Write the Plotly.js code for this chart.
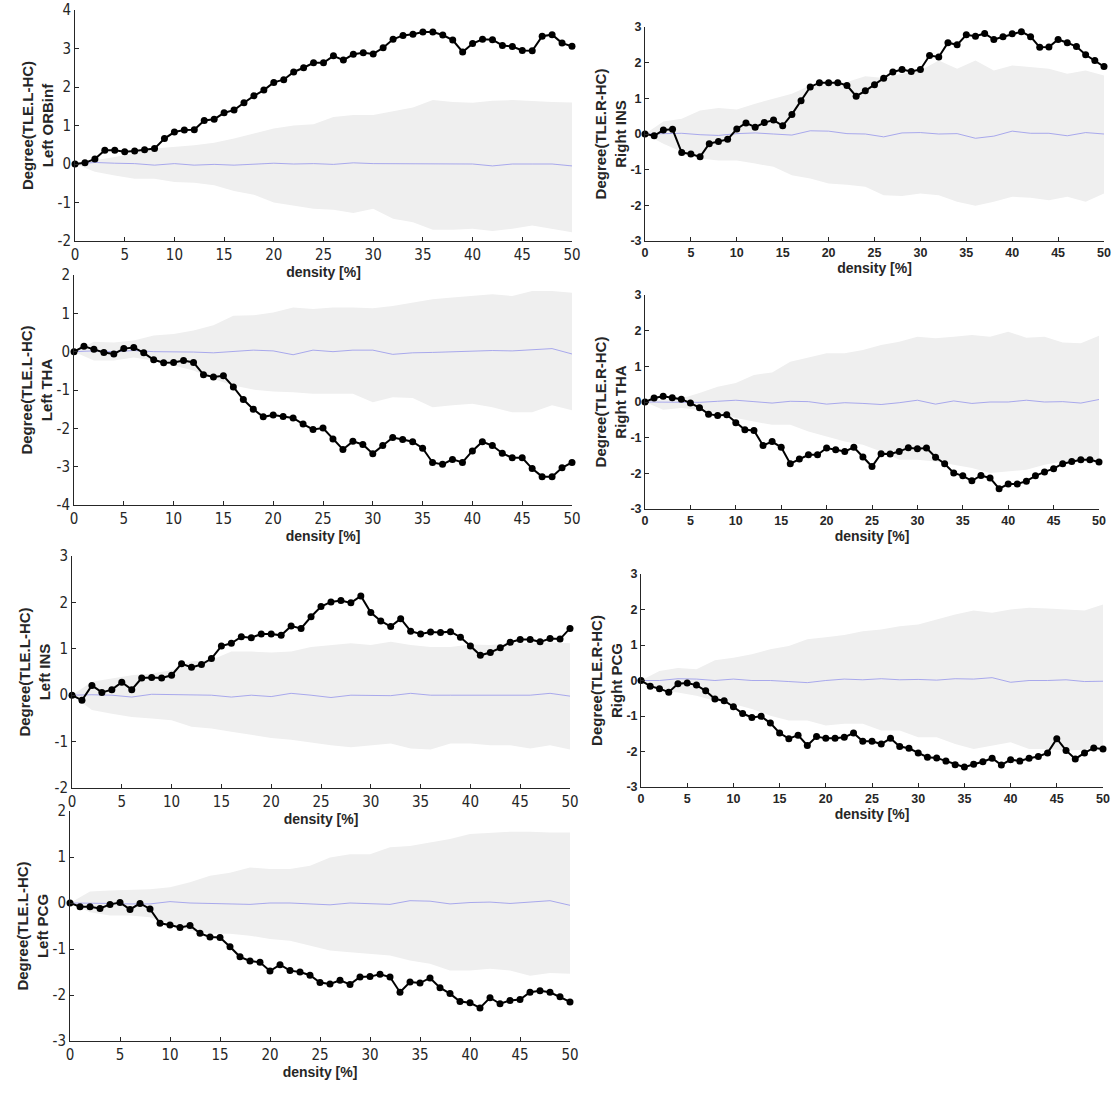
<!DOCTYPE html>
<html>
<head>
<meta charset="utf-8">
<script src="https://cdn.plot.ly/plotly-3.0.1.min.js"></script>
<style>
html,body{margin:0;padding:0;background:#fff;}
#chart{width:1112px;height:1094px;}
</style>
</head>
<body>
<div id="chart"></div>
<script>
// ---------------- data ----------------
const density = [0,1,2,3,4,5,6,7,8,9,10,11,12,13,14,15,16,17,18,19,20,21,22,23,24,25,26,27,28,29,30,31,32,33,34,35,36,37,38,39,40,41,42,43,44,45,46,47,48,49,50];
const bandDensity = [0,2,4,6,8,10,12,14,16,18,20,22,24,26,28,30,32,34,36,38,40,42,44,46,48,50];
const xTicks = [0,5,10,15,20,25,30,35,40,45,50];

// Left ORBinf
const leftORBinf = [0,0.03,0.13,0.36,0.36,0.32,0.34,0.37,0.40,0.66,0.83,0.88,0.89,1.13,1.16,1.33,1.40,1.59,1.77,1.92,2.12,2.19,2.39,2.50,2.63,2.63,2.81,2.70,2.85,2.89,2.86,3.02,3.24,3.34,3.37,3.43,3.43,3.35,3.22,2.91,3.13,3.24,3.23,3.08,3.05,2.95,2.94,3.32,3.36,3.14,3.06];
const leftORBinfUpper = [0,0.10,0.18,0.28,0.40,0.44,0.49,0.55,0.66,0.79,0.92,1.00,1.03,1.22,1.27,1.27,1.38,1.47,1.66,1.61,1.59,1.64,1.66,1.63,1.61,1.60];
const leftORBinfLower = [0,-0.20,-0.30,-0.38,-0.38,-0.47,-0.49,-0.55,-0.70,-0.80,-1.00,-1.08,-1.16,-1.19,-1.27,-1.16,-1.42,-1.51,-1.71,-1.71,-1.68,-1.74,-1.68,-1.60,-1.68,-1.77];
const leftORBinfMean = [0,0.04,0.02,0.01,-0.03,0.01,-0.03,-0.01,-0.03,0.00,0.02,0.00,0.01,-0.01,0.03,0.01,0.01,0.00,0.00,0.00,0.00,-0.05,0.00,0.00,0.00,-0.05];

// Right INS
const rightINS = [0,-0.05,0.11,0.13,-0.52,-0.56,-0.64,-0.27,-0.21,-0.15,0.14,0.31,0.19,0.32,0.39,0.23,0.55,0.93,1.32,1.44,1.44,1.44,1.36,1.06,1.21,1.38,1.56,1.74,1.81,1.75,1.81,2.20,2.16,2.56,2.50,2.78,2.74,2.82,2.65,2.73,2.81,2.87,2.73,2.43,2.44,2.65,2.56,2.45,2.22,2.06,1.89];
const rightINSUpper = [0,0.35,0.43,0.66,0.73,0.69,0.85,0.99,1.13,1.36,1.41,1.46,1.62,1.57,1.69,1.78,2.06,1.83,2.06,1.78,1.92,1.88,1.83,1.69,1.78,1.64];
const rightINSLower = [0,-0.27,-0.50,-0.69,-0.74,-0.74,-0.83,-0.92,-1.16,-1.25,-1.39,-1.42,-1.48,-1.72,-1.74,-1.67,-1.72,-1.90,-2.01,-1.90,-1.76,-1.79,-1.86,-1.76,-1.90,-1.67];
const rightINSMean = [0,0,0.02,-0.02,-0.04,0.01,0.03,0,-0.03,0.09,0.08,0.01,0,-0.08,0.03,0.04,0,0.01,-0.12,-0.06,0.08,0.02,0.02,-0.05,0.04,0];

// Left THA
const leftTHA = [0,0.14,0.06,-0.02,-0.06,0.08,0.11,-0.03,-0.21,-0.29,-0.28,-0.23,-0.28,-0.60,-0.66,-0.63,-0.92,-1.25,-1.50,-1.70,-1.65,-1.69,-1.73,-1.89,-2.03,-1.99,-2.28,-2.55,-2.34,-2.42,-2.66,-2.45,-2.24,-2.29,-2.35,-2.52,-2.89,-2.94,-2.81,-2.89,-2.59,-2.35,-2.45,-2.65,-2.77,-2.77,-3.05,-3.26,-3.26,-3.03,-2.89];
const leftTHAUpper = [0,0.26,0.24,0.29,0.42,0.46,0.55,0.69,0.94,0.95,1.02,1.15,1.11,1.15,1.15,1.13,1.19,1.28,1.37,1.41,1.45,1.50,1.45,1.58,1.58,1.54];
const leftTHALower = [0,-0.23,-0.23,-0.15,-0.23,-0.36,-0.49,-0.71,-0.88,-0.99,-1.04,-1.06,-1.10,-1.10,-1.10,-1.32,-1.19,-1.21,-1.45,-1.40,-1.36,-1.45,-1.58,-1.58,-1.40,-1.53];
const leftTHAMean = [0,0.02,0,0.03,0,0,-0.01,-0.03,0,0.04,0.02,-0.08,0.04,0,0.04,0.04,-0.07,-0.03,-0.02,0,0.02,0.03,0.02,0.05,0.08,-0.06];

// Right THA
const rightTHA = [0,0.11,0.16,0.12,0.08,-0.03,-0.16,-0.34,-0.38,-0.36,-0.58,-0.78,-0.80,-1.22,-1.11,-1.27,-1.73,-1.60,-1.48,-1.48,-1.29,-1.34,-1.39,-1.27,-1.54,-1.81,-1.45,-1.46,-1.39,-1.28,-1.31,-1.29,-1.55,-1.73,-1.99,-2.07,-2.21,-2.06,-2.13,-2.43,-2.30,-2.30,-2.22,-2.07,-1.96,-1.87,-1.73,-1.67,-1.62,-1.62,-1.68];
const rightTHAUpper = [0,0.08,0.10,0.25,0.43,0.53,0.76,0.83,1.13,1.24,1.37,1.37,1.46,1.60,1.69,1.83,1.79,1.83,1.88,1.83,1.97,1.80,1.83,1.67,1.65,1.86];
const rightTHALower = [0,-0.22,-0.17,-0.22,-0.31,-0.45,-0.55,-0.64,-0.64,-0.83,-0.97,-1.11,-1.20,-1.39,-1.62,-1.62,-1.67,-1.76,-1.85,-1.99,-1.95,-1.90,-1.76,-1.67,-1.67,-1.71];
const rightTHAMean = [0,0,0,-0.01,0.02,0.05,0.01,-0.03,0.02,0.01,-0.06,-0.02,-0.04,-0.07,-0.02,0.05,-0.06,0.03,-0.04,0,0,0.05,0,0.01,-0.03,0.07];

// Left INS
const leftINS = [0,-0.11,0.21,0.06,0.12,0.28,0.12,0.37,0.38,0.37,0.43,0.68,0.60,0.66,0.79,1.06,1.12,1.26,1.24,1.32,1.32,1.29,1.49,1.44,1.69,1.91,2.01,2.04,1.99,2.14,1.78,1.60,1.48,1.65,1.38,1.32,1.36,1.35,1.37,1.25,1.06,0.86,0.92,1.02,1.14,1.20,1.20,1.15,1.22,1.21,1.44];
const leftINSUpper = [0,0.29,0.36,0.43,0.47,0.54,0.73,0.76,0.94,0.94,0.92,0.94,1.04,1.08,1.12,1.08,1.15,1.08,1.04,1.04,1.09,1.08,1.12,1.12,1.14,1.12];
const leftINSLower = [0,-0.32,-0.40,-0.47,-0.50,-0.54,-0.68,-0.72,-0.79,-0.86,-0.92,-0.96,-1.02,-1.08,-1.12,-1.08,-1.04,-1.15,-1.17,-1.04,-1.04,-1.08,-1.08,-1.15,-1.08,-1.17];
const leftINSMean = [0,0.01,0,-0.04,0.02,0.01,0,0,-0.04,0,-0.03,0.04,0,-0.05,0,0,-0.01,0.04,0,0,0,0.01,0.01,0,0.04,-0.02];

// Right PCG
const rightPCG = [0,-0.16,-0.23,-0.33,-0.09,-0.07,-0.13,-0.29,-0.52,-0.57,-0.74,-0.93,-1.04,-1.01,-1.20,-1.48,-1.64,-1.54,-1.83,-1.58,-1.63,-1.63,-1.60,-1.48,-1.71,-1.71,-1.79,-1.63,-1.86,-1.91,-2.04,-2.16,-2.18,-2.27,-2.37,-2.44,-2.36,-2.29,-2.19,-2.38,-2.23,-2.27,-2.19,-2.14,-2.04,-1.64,-1.97,-2.21,-2.04,-1.90,-1.93];
const rightPCGUpper = [0,0.27,0.35,0.32,0.57,0.64,0.74,0.88,0.97,1.16,1.22,1.28,1.39,1.44,1.53,1.58,1.72,1.86,1.97,1.91,2.00,2.05,2.03,2.00,1.97,2.14];
const rightPCGLower = [0,-0.29,-0.34,-0.43,-0.57,-0.66,-0.80,-0.99,-1.13,-1.13,-1.27,-1.22,-1.22,-1.41,-1.41,-1.60,-1.60,-1.79,-1.93,-1.83,-1.74,-1.93,-1.93,-1.97,-1.95,-1.83];
const rightPCGMean = [0,0,0.05,0.04,0,0.04,0,0,-0.03,-0.06,0,0.04,0.02,0.05,0.02,0.03,0.01,0.05,0.04,0.08,-0.05,0,0,0.02,-0.03,-0.02];

// Left PCG
const leftPCG = [0,-0.08,-0.08,-0.12,-0.03,0.01,-0.14,-0.01,-0.13,-0.44,-0.48,-0.53,-0.49,-0.66,-0.74,-0.75,-0.95,-1.17,-1.26,-1.29,-1.48,-1.34,-1.47,-1.50,-1.57,-1.73,-1.76,-1.68,-1.77,-1.61,-1.60,-1.55,-1.61,-1.94,-1.72,-1.74,-1.63,-1.84,-1.97,-2.14,-2.17,-2.28,-2.06,-2.19,-2.12,-2.10,-1.94,-1.91,-1.94,-2.04,-2.15];
const leftPCGUpper = [0,0.25,0.27,0.28,0.30,0.34,0.45,0.59,0.66,0.77,0.74,0.74,0.81,0.99,1.06,1.06,1.21,1.24,1.32,1.39,1.50,1.53,1.55,1.55,1.53,1.53];
const leftPCGLower = [0,-0.20,-0.27,-0.27,-0.31,-0.46,-0.60,-0.67,-0.67,-0.71,-0.78,-0.82,-0.92,-1.03,-1.07,-1.11,-1.14,-1.25,-1.32,-1.47,-1.47,-1.43,-1.47,-1.58,-1.52,-1.54];
const leftPCGMean = [0,0,-0.01,-0.02,-0.02,0.03,0,-0.01,-0.02,-0.03,0,0,-0.02,-0.04,0,-0.01,-0.03,0.05,0.04,-0.02,0.01,0.02,-0.01,0.02,0.05,-0.05];

// ---------------- panels ----------------
const W = 1112, H = 1094;
const panels = [
  {title:'Degree(TLE.L-HC)<br>Left ORBinf', y:leftORBinf, up:leftORBinfUpper, lo:leftORBinfLower, mean:leftORBinfMean, range:[-2,4], ticks:[-2,-1,0,1,2,3,4], box:[75,572,10,241], side:'L'},
  {title:'Degree(TLE.R-HC)<br>Right INS', y:rightINS, up:rightINSUpper, lo:rightINSLower, mean:rightINSMean, range:[-3,3], ticks:[-3,-2,-1,0,1,2,3], box:[645,1104,27,241], side:'R'},
  {title:'Degree(TLE.L-HC)<br>Left THA', y:leftTHA, up:leftTHAUpper, lo:leftTHALower, mean:leftTHAMean, range:[-4,2], ticks:[-4,-3,-2,-1,0,1,2], box:[74,572,275,505], side:'L'},
  {title:'Degree(TLE.R-HC)<br>Right THA', y:rightTHA, up:rightTHAUpper, lo:rightTHALower, mean:rightTHAMean, range:[-3,3], ticks:[-3,-2,-1,0,1,2,3], box:[645,1099,295,509], side:'R'},
  {title:'Degree(TLE.L-HC)<br>Left INS', y:leftINS, up:leftINSUpper, lo:leftINSLower, mean:leftINSMean, range:[-2,3], ticks:[-2,-1,0,1,2,3], box:[72,570,556,788], side:'L'},
  {title:'Degree(TLE.R-HC)<br>Right PCG', y:rightPCG, up:rightPCGUpper, lo:rightPCGLower, mean:rightPCGMean, range:[-3,3], ticks:[-3,-2,-1,0,1,2,3], box:[641,1103,574,787], side:'R'},
  {title:'Degree(TLE.L-HC)<br>Left PCG', y:leftPCG, up:leftPCGUpper, lo:leftPCGLower, mean:leftPCGMean, range:[-3,2], ticks:[-3,-2,-1,0,1,2], box:[70,570,811,1041], side:'L'}
];

const axisColor = '#262626';
const titleFont = {family:'Liberation Sans, Arial, sans-serif', size:15, color:'#262626', weight:'bold'};
const xTitleFont = {family:'Liberation Sans, Arial, sans-serif', size:14, color:'#262626', weight:'bold'};
const tickFontL = {family:'Liberation Sans Narrow, DejaVu Sans Condensed, Arial Narrow, sans-serif', size:15, color:'#262626'};
const tickFontR = {family:'Liberation Sans, Arial, sans-serif', size:12.5, color:'#262626', weight:'bold'};

const traces = [];
const layout = {
  width:W, height:H,
  margin:{l:0,r:0,t:0,b:0},
  paper_bgcolor:'#ffffff', plot_bgcolor:'rgba(0,0,0,0)',
  showlegend:false
};

panels.forEach((p,i)=>{
  const n = i===0 ? '' : String(i+1);
  const xa = 'x'+n, ya = 'y'+n;
  traces.push({x:bandDensity, y:p.lo, xaxis:xa, yaxis:ya, type:'scatter', mode:'lines', line:{width:0, color:'rgba(0,0,0,0)'}, hoverinfo:'skip'});
  traces.push({x:bandDensity, y:p.up, xaxis:xa, yaxis:ya, type:'scatter', mode:'lines', line:{width:0, color:'rgba(0,0,0,0)'}, fill:'tonexty', fillcolor:'#efefef', hoverinfo:'skip'});
  traces.push({x:bandDensity, y:p.mean, xaxis:xa, yaxis:ya, type:'scatter', mode:'lines', line:{width:1, color:'rgba(150,150,235,0.8)'}, hoverinfo:'skip'});
  traces.push({x:density, y:p.y, xaxis:xa, yaxis:ya, type:'scatter', mode:'lines+markers', line:{width:2, color:'#000'}, marker:{size:7, color:'#000'}, cliponaxis:false});
  const [x0,x1,y0,y1] = p.box;
  const tf = p.side==='L' ? tickFontL : tickFontR;
  layout['xaxis'+n] = {
    domain:[x0/W, x1/W], range:[0,50], anchor:ya,
    tickvals:xTicks, ticktext:xTicks.map(String), ticks:'inside', ticklen:4, tickcolor:axisColor, tickwidth:1,
    showline:true, linecolor:axisColor, linewidth:1, mirror:false,
    showgrid:false, zeroline:false, tickfont:tf,
    title:{text:'density [%]', font:xTitleFont, standoff:0}
  };
  layout['yaxis'+n] = {
    domain:[1-y1/H, 1-y0/H], range:p.range, anchor:xa,
    tickvals:p.ticks, ticktext:p.ticks.map(String), ticks:'inside', ticklen:4, tickcolor:axisColor, tickwidth:1,
    showline:true, linecolor:axisColor, linewidth:1, mirror:false,
    showgrid:false, zeroline:false, tickfont:tf,
    title:{text:p.title, font:titleFont, standoff:0}
  };
});

Plotly.newPlot('chart', traces, layout, {staticPlot:true, displayModeBar:false});
</script>
</body>
</html>
